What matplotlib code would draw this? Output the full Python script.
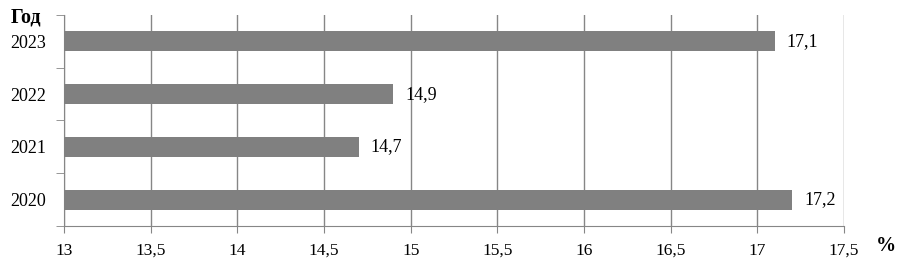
import matplotlib
matplotlib.use("Agg")
import matplotlib.pyplot as plt
from matplotlib.ticker import MultipleLocator, FuncFormatter

years = ["2020", "2021", "2022", "2023"]
values = [17.2, 14.7, 14.9, 17.1]
value_labels = ["17,2", "14,7", "14,9", "17,1"]

plt.rcParams['font.family'] = ['Liberation Serif', 'DejaVu Serif']

fig = plt.figure(figsize=(9, 2.61), dpi=100)
ax = fig.add_axes([64 / 900, 1 - 226 / 261, 780 / 900, 211 / 261])

pos = list(range(len(years)))
ax.barh(pos, [v - 13 for v in values], left=13, height=0.38, color="#808080", zorder=3)

ax.set_xlim(13, 17.5)
ax.set_ylim(-0.5, 3.5)
ax.xaxis.set_major_locator(MultipleLocator(0.5))
ax.xaxis.set_major_formatter(FuncFormatter(lambda v, p: ("%g" % v).replace(".", ",")))
ax.grid(axis="x", color="#868686", linewidth=1, zorder=0)

ax.set_yticks(pos)
ax.set_yticklabels(years)
ax.set_yticks([-0.5, 0.5, 1.5, 2.5, 3.5], minor=True)
ax.tick_params(axis="y", which="major", length=0, pad=13, labelsize=13)
ax.tick_params(axis="y", which="minor", length=6, color="#868686")
ax.tick_params(axis="x", length=5, color="#868686", pad=7, labelsize=12.5)

for s in ["top", "right"]:
    ax.spines[s].set_visible(False)
for s in ["left", "bottom"]:
    ax.spines[s].set_color("#868686")

for p, v, lab in zip(pos, values, value_labels):
    ax.text(v + 0.07, p, lab, va="center", ha="left", fontsize=13)

fig.text(11 / 900, 1 - 17 / 261, "Год", fontsize=14.5, fontweight="bold", va="center", ha="left")
fig.text(876 / 900, 1 - 246 / 261, "%", fontsize=14.5, fontweight="bold", va="center", ha="left")

fig.savefig("out.png", dpi=100)
